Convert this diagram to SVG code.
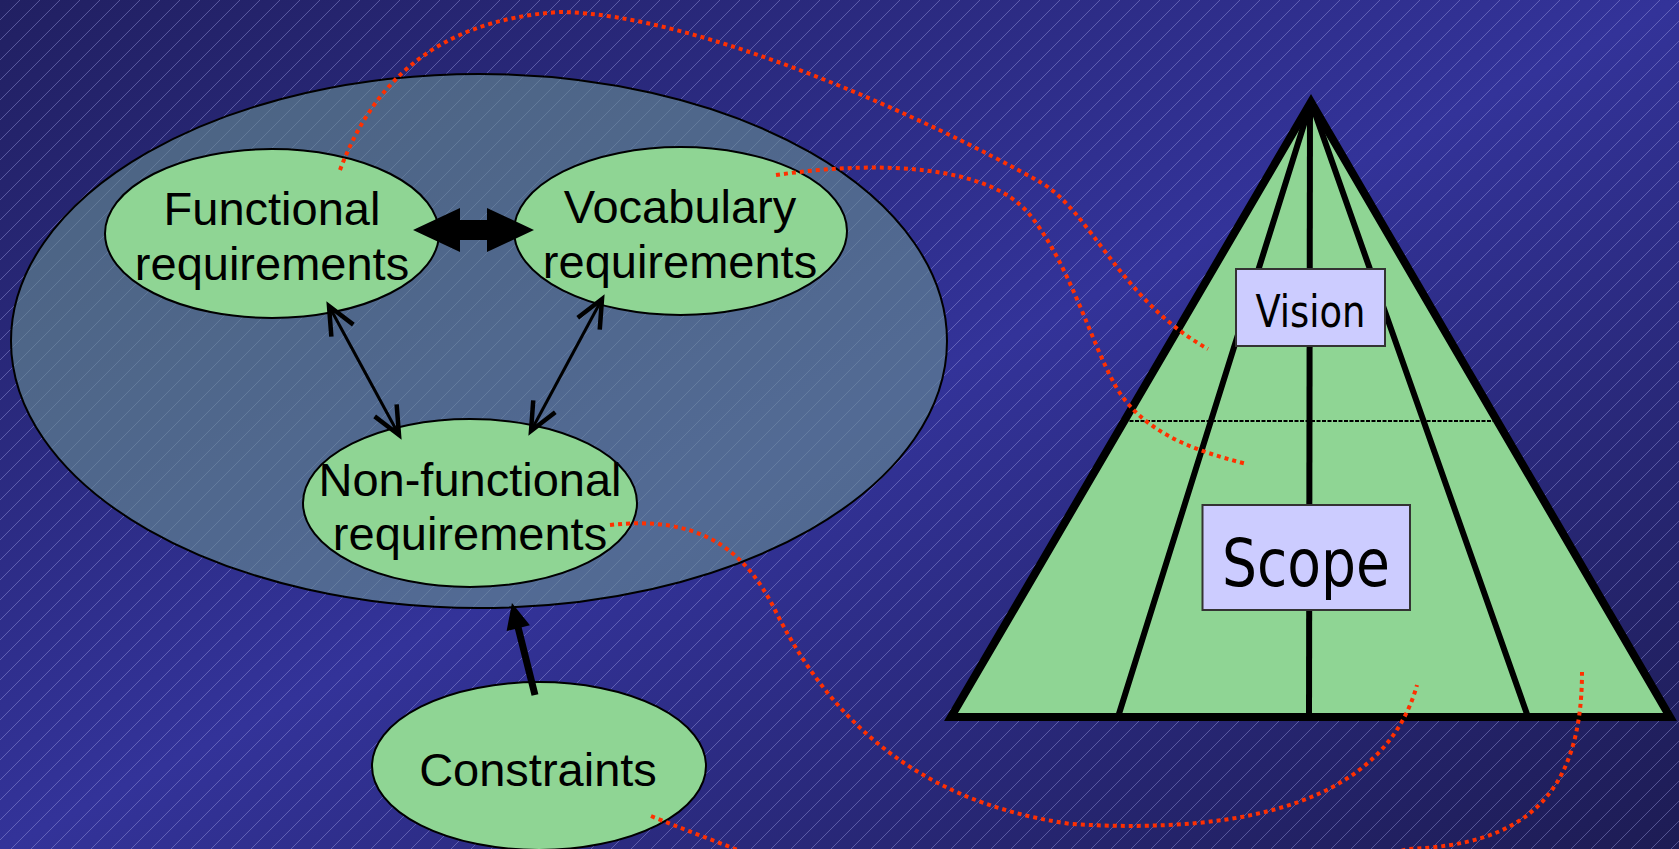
<svg xmlns="http://www.w3.org/2000/svg" width="1679" height="849" viewBox="0 0 1679 849">
  <defs>
    <linearGradient id="bg" x1="0" y1="0" x2="1" y2="1">
      <stop offset="0" stop-color="#212062"/>
      <stop offset="0.5" stop-color="#333399"/>
      <stop offset="1" stop-color="#1d1c54"/>
    </linearGradient>
    <pattern id="hatch" patternUnits="userSpaceOnUse" width="20" height="20">
      <path d="M -5 5 L 5 -5 M 0 20 L 20 0 M 15 25 L 25 15" stroke="#a4a4e6" stroke-opacity="0.42" stroke-width="1"/>
    </pattern>
    <!-- open arrowhead used on both ends of the thin links -->
    <marker id="open" markerUnits="userSpaceOnUse" orient="auto-start-reverse" markerWidth="40" markerHeight="40" refX="0" refY="0" viewBox="-35 -20 40 40" overflow="visible">
      <path d="M -28 -12.5 L 0 0 L -28 12.5" fill="none" stroke="#000" stroke-width="4.5" stroke-linejoin="miter"/>
    </marker>
    <!-- solid head for the constraints arrow -->
    <marker id="solid" markerUnits="userSpaceOnUse" orient="auto" markerWidth="40" markerHeight="40" refX="0" refY="0" viewBox="-10 -20 40 40" overflow="visible">
      <path d="M 22 0 L -4 -12 L -4 12 Z" fill="#000"/>
    </marker>
    <style>
      .bubble { fill: #8fd594; stroke: #000; stroke-width: 2; }
      .label { font-family: "Liberation Sans", Arial, sans-serif; font-size: 47px; fill: #000; text-anchor: middle; }
      .tag { fill: #ccccff; stroke: #333; stroke-width: 2; }
      .tagtext { font-family: "DejaVu Sans Condensed", "DejaVu Sans", sans-serif; fill: #000; text-anchor: middle; }
      .trace { fill: none; stroke: #ff3000; stroke-width: 4; stroke-dasharray: 4 4; }
      .link { fill: none; stroke: #000; stroke-width: 3; }
      .edge { stroke: #000; stroke-linejoin: miter; stroke-miterlimit: 20; }
      .face { fill: #8fd594; }
      .rib { fill: none; }
    </style>
  </defs>

  <!-- background -->
  <rect width="1679" height="849" fill="url(#bg)"/>
  <rect width="1679" height="849" fill="url(#hatch)"/>

  <!-- requirements envelope -->
  <g id="requirements">
    <ellipse cx="479" cy="341" rx="468" ry="267" fill="#668d91" fill-opacity="0.62" stroke="#000" stroke-width="2"/>
  </g>

  <g id="functional">
    <ellipse class="bubble" cx="272" cy="233.5" rx="167" ry="84.5"/>
    <text class="label" x="272" y="225">Functional</text>
    <text class="label" x="272" y="280">requirements</text>
  </g>

  <g id="vocabulary">
    <ellipse class="bubble" cx="680.5" cy="231" rx="166.5" ry="84"/>
    <text class="label" x="680" y="223">Vocabulary</text>
    <text class="label" x="680" y="278">requirements</text>
  </g>

  <g id="nonfunctional">
    <ellipse class="bubble" cx="470" cy="503" rx="167" ry="84"/>
    <text class="label" x="470" y="496">Non-functional</text>
    <text class="label" x="470" y="550">requirements</text>
  </g>

  <g id="constraints">
    <ellipse class="bubble" cx="539" cy="766" rx="167" ry="84"/>
    <text class="label" x="538" y="786">Constraints</text>
  </g>

  <!-- pyramid with its two tiers -->
  <g id="pyramid">
    <path class="edge face" d="M 1311 102 L 1670 717 L 951 717 Z" stroke-width="8"/>
    <path class="edge rib" d="M 1311 102 L 1118 717 M 1311 102 L 1528 717" stroke-width="6"/>
    <path class="edge rib" d="M 1310 102 L 1309 717" stroke-width="6"/>
    <path d="M 1124 421 L 1497 421" stroke="#000" stroke-width="2" stroke-dasharray="4 1.5"/>
    <g id="vision">
      <rect class="tag" x="1236" y="269" width="149" height="77"/>
      <text class="tagtext" x="1310.5" y="327" font-size="44" textLength="110" lengthAdjust="spacingAndGlyphs">Vision</text>
    </g>
    <g id="scope">
      <rect class="tag" x="1202.5" y="505" width="207.5" height="105"/>
      <text class="tagtext" x="1306" y="586" font-size="65" textLength="168" lengthAdjust="spacingAndGlyphs">Scope</text>
    </g>
  </g>

  <!-- connectors -->
  <g id="connectors">
    <path d="M 413 230 L 460 208 L 460 220 L 487 220 L 487 208 L 534 230 L 487 252 L 487 240 L 460 240 L 460 252 Z" fill="#000"/>
    <line class="link" x1="329" y1="306" x2="399" y2="435" marker-start="url(#open)" marker-end="url(#open)"/>
    <line class="link" x1="602" y1="299" x2="531" y2="431" marker-start="url(#open)" marker-end="url(#open)"/>
    <line x1="535" y1="695" x2="517.3" y2="624.3" stroke="#000" stroke-width="7" marker-end="url(#solid)"/>

    <path class="trace" d="M 340 170 C 370 90, 430 20, 560 12 C 700 14, 930 120, 1040 182 C 1090 210, 1120 300, 1208 349"/>
    <path class="trace" d="M 776 175 C 880 160, 990 165, 1030 215 C 1070 265, 1090 340, 1115 385 C 1140 430, 1190 450, 1247 464"/>
    <path class="trace" d="M 610 525 C 700 515, 745 550, 775 610 C 820 700, 900 800, 1071 824 C 1250 835, 1385 800, 1417 685"/>
    <path class="trace" d="M 651 816 C 700 836, 740 850, 800 875 C 950 930, 1300 880, 1408 849 C 1520 845, 1582 800, 1582 672"/>
  </g>
</svg>
